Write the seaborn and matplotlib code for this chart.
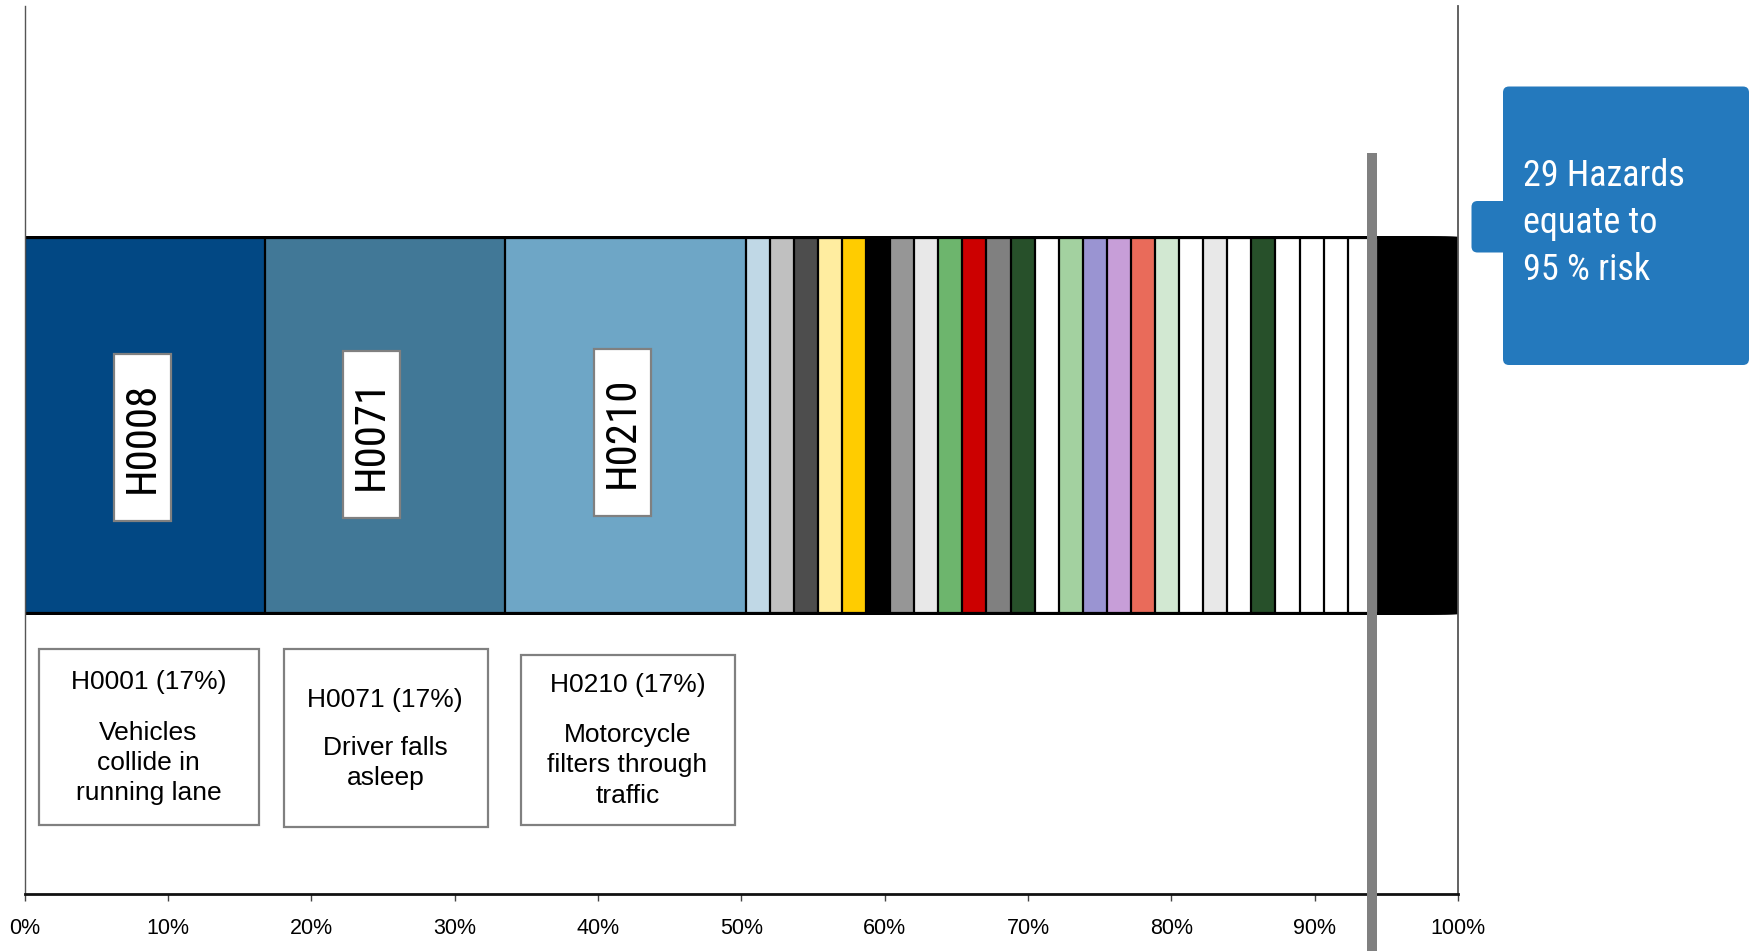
import matplotlib
matplotlib.use("Agg")
import matplotlib.pyplot as plt
import seaborn as sns
import pandas as pd
import numpy as np
from matplotlib import font_manager
from matplotlib.patches import Rectangle, FancyBboxPatch
from matplotlib.ticker import FuncFormatter

# ---- data: share of total risk per hazard, in percent, ranked ----
top_ids = ["H0008", "H0071", "H0210"]
top_share = [16.77, 16.77, 16.76]
mid_share = [1.68, 1.68, 1.68, 1.68, 1.68, 1.68, 1.68, 1.68, 1.68, 1.68,
             1.68, 1.68, 1.68, 1.68, 1.68, 1.68, 1.68, 1.68, 1.68, 1.68,
             1.68, 1.68, 1.68, 1.68, 1.68, 1.68]
tail_share = [0.16, 0.16, 0.15, 0.15, 0.14, 0.14, 0.14, 0.13, 0.13,
              0.13, 0.13, 0.12, 0.12, 0.12, 0.12, 0.12, 0.11, 0.11, 0.11,
              0.11, 0.11, 0.11, 0.10, 0.10, 0.10, 0.10, 0.10, 0.10, 0.10,
              0.10, 0.10, 0.09, 0.09, 0.09, 0.09, 0.09, 0.09, 0.09, 0.09,
              0.09, 0.08, 0.08, 0.08, 0.08, 0.08, 0.08, 0.08, 0.08, 0.07,
              0.07, 0.07, 0.07, 0.07, 0.07, 0.07, 0.06, 0.06, 0.06, 0.06,
              0.06, 0.06]
n_key_hazards = 29

box_titles = ["H0001 (17%)", "H0071 (17%)", "H0210 (17%)"]
box_bodies = ["Vehicles\ncollide in\nrunning lane",
              "Driver falls\nasleep",
              "Motorcycle\nfilters through\ntraffic"]
callout_text = "29 Hazards\nequate to\n95 % risk"
x_ticks = [0, 10, 20, 30, 40, 50, 60, 70, 80, 90, 100]

# ---- colours ----
top_colors = ["#024884", "#417897", "#6ea6c6"]
mid_colors = ["#c0d8e6", "#c0c0c0", "#4d4d4d", "#ffeda0", "#ffcc00", "#000000",
              "#969696", "#e8e8e8", "#6db56d", "#cc0000", "#808080", "#27502a",
              "#ffffff", "#a3d1a0", "#9a94d2", "#c79ed8", "#e96b5a", "#d2e8d2",
              "#ffffff", "#e8e8e8", "#ffffff", "#27502a", "#ffffff", "#ffffff",
              "#ffffff", "#ffffff"]
tail_cycle = ["#101010", "#3d4f66", "#1a1a1a", "#7f7f70", "#000000", "#555555"]
callout_blue = "#2479bd"

sns.set_theme(style="white")
plt.rcParams["font.family"] = ["Liberation Sans", "DejaVu Sans"]

# pick a narrow face for the tall labels, if one is installed
installed = {f.name for f in font_manager.fontManager.ttflist}
narrow_font = None
for cand in ["Liberation Sans Narrow", "Arial Narrow", "Roboto Condensed",
             "Open Sans Condensed", "Noto Sans Condensed"]:
    if cand in installed:
        narrow_font = cand
        break
if narrow_font:
    tag_family, tag_size = [narrow_font, "DejaVu Sans"], 31
    call_family, call_size = [narrow_font, "DejaVu Sans"], 26
else:
    tag_family, tag_size = ["Liberation Sans", "DejaVu Sans"], 28
    call_family, call_size = ["Liberation Sans", "DejaVu Sans"], 22

ids = top_ids + [f"M{i + 1:02d}" for i in range(len(mid_share))] \
    + [f"T{i + 1:02d}" for i in range(len(tail_share))]
shares = top_share + mid_share + tail_share
colors = top_colors + mid_colors + [tail_cycle[i % len(tail_cycle)] for i in range(len(tail_share))]
cum = np.cumsum(shares)
df = pd.DataFrame({"hazard": ids, "cumulative": cum, "row": "all"})
palette = dict(zip(ids, colors))

fig = plt.figure(figsize=(17.52, 9.51), dpi=100)
ax = fig.add_axes([0.01404, 0.0599, 0.8182, 0.9342])

# stacked bar: cumulative bars drawn from longest to shortest
sns.barplot(data=df, x="cumulative", y="row", hue="hazard",
            hue_order=ids[::-1], palette=palette, dodge=False, orient="h",
            width=0.8, edgecolor="black", linewidth=1.6, errorbar=None,
            saturation=1, legend=False, ax=ax)
for p in ax.patches:
    p.set_joinstyle("miter")

ax.set_xlim(0, 100)
ax.set_ylim(1.002, -0.898)
ax.set_yticks([])
ax.set_xlabel("")
ax.set_ylabel("")
ax.set_xticks(x_ticks)
ax.xaxis.set_major_formatter(FuncFormatter(lambda v, p: f"{v:.0f}%"))
ax.tick_params(axis="x", direction="out", length=5, width=1.0, color="#444444",
               labelsize=15.5, labelcolor="black", pad=12, bottom=True)

ax.spines["top"].set_visible(False)
ax.spines["left"].set_color("#555555")
ax.spines["left"].set_linewidth(1.0)
ax.spines["right"].set_color("#555555")
ax.spines["right"].set_linewidth(1.3)
ax.spines["bottom"].set_color("#111111")
ax.spines["bottom"].set_linewidth(2.0)

# marker for the cumulative share of the key hazards
ax.axvline(cum[n_key_hazards - 1], ymin=-0.08, ymax=0.834, color="#808080",
           lw=7.2, clip_on=False, zorder=6, solid_capstyle="butt")

# rotated hazard tags inside the three largest segments
xt = ax.get_xaxis_transform()
tag_offsets = [-0.15, -0.95, -0.2]
tag_y = [0.514, 0.517, 0.520]
tag_w, tag_h = 3.97, 0.188
starts = np.concatenate([[0], cum[:-1]])
for i, hz in enumerate(top_ids):
    cx = (starts[i] + cum[i]) / 2 + tag_offsets[i]
    ax.add_patch(Rectangle((cx - tag_w / 2, tag_y[i] - tag_h / 2), tag_w, tag_h,
                           transform=xt, fc="white", ec="#808080", lw=1.6, zorder=7))
    ax.text(cx, tag_y[i], hz, rotation=90, ha="center", va="center",
            rotation_mode="anchor", transform=xt, fontsize=tag_size,
            family=tag_family, color="black", zorder=8)

# description boxes under the bar
box_rects = [(1.02, 0.0777, 15.32, 0.1981),
             (18.08, 0.0754, 14.22, 0.2004),
             (34.60, 0.0777, 14.99, 0.1913)]
title_pos = [(8.64, 0.2386), (25.16, 0.2189), (42.06, 0.2353)]
body_pos = [(8.64, 0.1473), (25.16, 0.1472), (42.06, 0.1447)]
for rect, tp, bp, title, body in zip(box_rects, title_pos, body_pos, box_titles, box_bodies):
    ax.add_patch(Rectangle(rect[:2], rect[2], rect[3], transform=xt, fc="white",
                           ec="#808080", lw=1.6, clip_on=False, zorder=5))
    ax.text(tp[0], tp[1], title, transform=xt, ha="center", va="center",
            fontsize=19, color="black", zorder=7)
    ax.text(bp[0], bp[1], body, transform=xt, ha="center", va="center",
            fontsize=19, color="black", linespacing=1.33, zorder=7)

# callout on the right
inch = fig.dpi_scale_trans
fig.add_artist(FancyBboxPatch((15.03, 5.86), 2.46, 2.785,
                              boxstyle="round,pad=0,rounding_size=0.06",
                              transform=inch, fc=callout_blue, ec="none"))
fig.add_artist(FancyBboxPatch((14.715, 6.985), 0.45, 0.515,
                              boxstyle="round,pad=0,rounding_size=0.06",
                              transform=inch, fc=callout_blue, ec="none"))
call_ls = 48.0 / (0.957 * call_size * 100 / 72)
fig.text(15.23, 7.28, callout_text, transform=inch, ha="left", va="center",
         color="white", fontsize=call_size, family=call_family, linespacing=call_ls)

fig.savefig("out.png", dpi=100, facecolor="white")
